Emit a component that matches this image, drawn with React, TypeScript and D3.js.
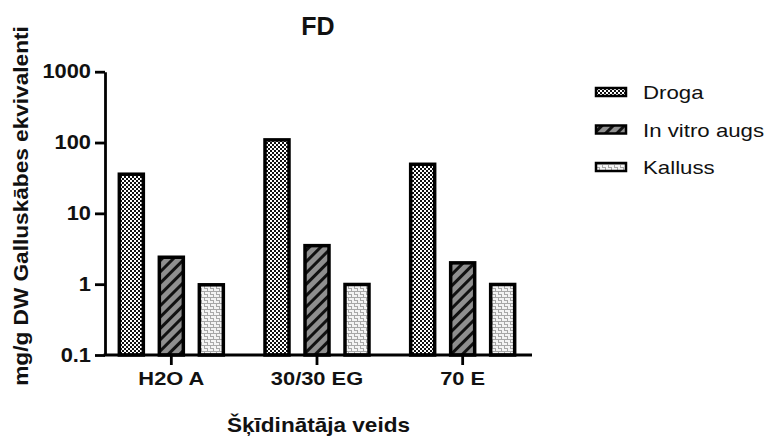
import React, { useEffect, useRef } from 'react';
import * as d3 from 'd3';

const categories = ['H2O A', '30/30 EG', '70 E'];
const seriesNames = ['Droga', 'In vitro augs', 'Kalluss'];
const drogaValues = [35.7, 109, 49.3];
const inVitroValues = [2.4, 3.5, 2.0];
const kallussValues = [0.98, 0.99, 0.99];
const yTickValues = [0.1, 1, 10, 100, 1000];

const seriesValues = [drogaValues, inVitroValues, kallussValues];
const patternIds = ['pat-checker', 'pat-diag', 'pat-brick'];

const FONT = 'Arial, "Liberation Sans", sans-serif';

// the source image is a bit wider than tall, text looks stretched sideways
const stretch = (sel: any, k: number) => {
  sel.each(function (this: SVGTextElement) {
    const len = this.getComputedTextLength();
    d3.select(this).attr('textLength', len * k).attr('lengthAdjust', 'spacingAndGlyphs');
  });
};

const App: React.FC = () => {
  const svgRef = useRef<SVGSVGElement>(null);

  useEffect(() => {
    if (!svgRef.current) return;
    const svg = d3.select(svgRef.current);
    svg.selectAll('*').remove();

    const defs = svg.append('defs');

    // checkerboard
    const checker = defs.append('pattern')
      .attr('id', 'pat-checker')
      .attr('patternUnits', 'userSpaceOnUse')
      .attr('width', 4)
      .attr('height', 4);
    checker.append('rect').attr('width', 4).attr('height', 4).attr('fill', '#fff');
    checker.append('rect').attr('width', 2).attr('height', 2).attr('fill', '#111');
    checker.append('rect').attr('x', 2).attr('y', 2).attr('width', 2).attr('height', 2).attr('fill', '#111');

    // diagonal stripes on grey
    const diag = defs.append('pattern')
      .attr('id', 'pat-diag')
      .attr('patternUnits', 'userSpaceOnUse')
      .attr('width', 8)
      .attr('height', 8)
      .attr('patternTransform', 'rotate(45)');
    diag.append('rect').attr('width', 8).attr('height', 8).attr('fill', '#8f8f8f');
    diag.append('rect').attr('width', 3).attr('height', 8).attr('fill', '#111');

    // light brick
    const brick = defs.append('pattern')
      .attr('id', 'pat-brick')
      .attr('patternUnits', 'userSpaceOnUse')
      .attr('width', 6)
      .attr('height', 6);
    brick.append('rect').attr('width', 6).attr('height', 6).attr('fill', '#f4f4f4');
    brick.append('path')
      .attr('d', 'M0,0.5H4 M3.5,0V3 M1,3.5H6 M0.5,3V6')
      .attr('stroke', '#a8a8a8')
      .attr('stroke-width', 1)
      .attr('fill', 'none');

    const axisLeftX = 105;
    const axisRightX = 532;

    const y = d3.scaleLog().domain([0.1, 1000]).range([355, 71.7]);
    const x0 = d3.scaleBand<string>().domain(categories).range([98.5, 535.5]);
    const x1 = d3.scaleBand<string>().domain(seriesNames).range([-60, 60]).paddingInner(0.4).paddingOuter(0.2);

    // bars
    seriesNames.forEach((s, si) => {
      svg.append('g')
        .selectAll('rect')
        .data(seriesValues[si])
        .enter()
        .append('rect')
        .attr('x', (_d: number, i: number) => (x0(categories[i]) as number) + x0.bandwidth() / 2 + (x1(s) as number))
        .attr('y', (d: number) => y(d))
        .attr('width', x1.bandwidth())
        .attr('height', (d: number) => y(0.1) - y(d))
        .attr('fill', `url(#${patternIds[si]})`)
        .attr('stroke', '#000')
        .attr('stroke-width', 3.5);
    });

    // y axis
    svg.append('g')
      .attr('transform', `translate(${axisLeftX},0)`)
      .call(d3.axisLeft(y).tickValues(yTickValues).tickFormat((d: any) => String(d)).tickSize(10).tickSizeOuter(0).tickPadding(4))
      .call((g: any) => g.select('.domain').attr('stroke', '#000').attr('stroke-width', 2.8))
      .call((g: any) => g.selectAll('line').attr('stroke', '#000').attr('stroke-width', 2.8))
      .call((g: any) => g.selectAll('text').attr('fill', '#111').attr('font-size', '19.5px').attr('font-weight', 'bold').attr('font-family', FONT))
      .call((g: any) => stretch(g.selectAll('text'), 1.12));

    // x axis
    svg.append('g')
      .attr('transform', 'translate(0,355)')
      .call(d3.axisBottom(x0).tickSize(10).tickSizeOuter(0).tickPadding(7))
      .call((g: any) => g.select('.domain').remove())
      .call((g: any) => g.selectAll('line').attr('stroke', '#000').attr('stroke-width', 2.8))
      .call((g: any) => g.selectAll('text').attr('fill', '#111').attr('font-size', '19px').attr('font-weight', 'bold').attr('font-family', FONT))
      .call((g: any) => stretch(g.selectAll('text'), 1.15));

    svg.append('line')
      .attr('x1', axisLeftX - 1.4)
      .attr('x2', axisRightX)
      .attr('y1', 355)
      .attr('y2', 355)
      .attr('stroke', '#000')
      .attr('stroke-width', 2.8);

    // title
    svg.append('text')
      .attr('x', 318)
      .attr('y', 35)
      .attr('text-anchor', 'middle')
      .attr('font-family', FONT)
      .attr('font-weight', 'bold')
      .style('font-size', '25px')
      .style('fill', '#111')
      .text('FD');

    // y label
    const yLabel = svg.append('text')
      .attr('transform', 'translate(28,206) rotate(-90)')
      .attr('text-anchor', 'middle')
      .attr('font-family', FONT)
      .attr('font-weight', 'bold')
      .style('font-size', '19.5px')
      .style('fill', '#111')
      .text('mg/g DW Galluskābes ekvivalenti');
    stretch(yLabel, 1.16);

    // x label
    const xLabel = svg.append('text')
      .attr('x', 318.5)
      .attr('y', 432)
      .attr('text-anchor', 'middle')
      .attr('font-family', FONT)
      .attr('font-weight', 'bold')
      .style('font-size', '20.5px')
      .style('fill', '#111')
      .text('Šķīdinātāja veids');
    stretch(xLabel, 1.1);

    // legend
    const legend = svg.append('g').attr('transform', 'translate(596,92)');
    seriesNames.forEach((s, i) => {
      const row = legend.append('g').attr('transform', `translate(0,${i * 37.5})`);
      row.append('rect')
        .attr('x', 0)
        .attr('y', -4)
        .attr('width', 30)
        .attr('height', 8)
        .attr('fill', `url(#${patternIds[i]})`)
        .attr('stroke', '#000')
        .attr('stroke-width', 2.5);
      const t = row.append('text')
        .attr('x', 47)
        .attr('y', 7)
        .attr('font-family', FONT)
        .style('font-size', '19px')
        .style('fill', '#111')
        .text(s);
      stretch(t, 1.17);
    });
  }, []);

  return (
    <svg
      ref={svgRef}
      width={771}
      height={439}
      style={{ position: 'absolute', left: 0, top: 0, display: 'block', background: '#fff' }}
    />
  );
};

export default App;
